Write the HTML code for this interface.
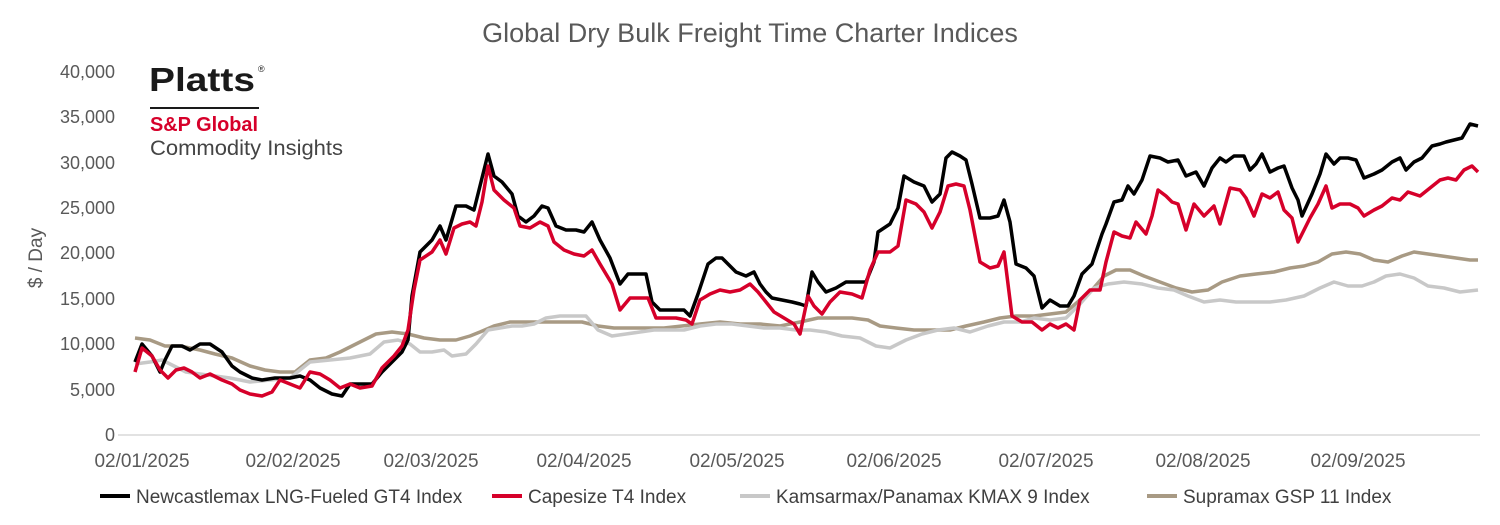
<!DOCTYPE html>
<html><head><meta charset="utf-8"><style>
body{margin:0;background:#fff;}
svg{display:block;font-family:"Liberation Sans",Arial,sans-serif;}
</style></head><body>
<svg width="1500" height="525" viewBox="0 0 1500 525" xmlns="http://www.w3.org/2000/svg">
<rect width="1500" height="525" fill="#fff"/>
<text x="750" y="42" text-anchor="middle" font-size="27" fill="#595959">Global Dry Bulk Freight Time Charter Indices</text>
<g font-size="18" fill="#595959" text-anchor="end">
<text x="115" y="441">0</text><text x="115" y="396">5,000</text><text x="115" y="350">10,000</text><text x="115" y="305">15,000</text><text x="115" y="259">20,000</text><text x="115" y="214">25,000</text><text x="115" y="169">30,000</text><text x="115" y="123">35,000</text><text x="115" y="78">40,000</text>
</g>
<text transform="translate(42,258) rotate(-90)" text-anchor="middle" font-size="19" fill="#595959">$ / Day</text>
<line x1="118" y1="435" x2="1480" y2="435" stroke="#d9d9d9" stroke-width="1.5"/>
<g font-size="19" fill="#595959" text-anchor="middle">
<text x="142" y="467">02/01/2025</text><text x="293" y="467">02/02/2025</text><text x="431" y="467">02/03/2025</text><text x="584" y="467">02/04/2025</text><text x="737" y="467">02/05/2025</text><text x="894" y="467">02/06/2025</text><text x="1046" y="467">02/07/2025</text><text x="1203" y="467">02/08/2025</text><text x="1358" y="467">02/09/2025</text>
</g>
<text x="149" y="91" font-size="33" font-weight="bold" fill="#1a1a1a" textLength="106" lengthAdjust="spacingAndGlyphs">Platts</text>
<text x="258" y="72" font-size="9" fill="#1a1a1a">®</text>
<line x1="150" y1="108" x2="259" y2="108" stroke="#1a1a1a" stroke-width="2"/>
<text x="150" y="131" font-size="20" font-weight="bold" fill="#d6002a" textLength="108" lengthAdjust="spacingAndGlyphs">S&amp;P Global</text>
<text x="150" y="155" font-size="21" fill="#444" textLength="193" lengthAdjust="spacingAndGlyphs">Commodity Insights</text>
<g fill="none" stroke-width="3.5" stroke-linejoin="round">
<polyline stroke="#a89a84" points="135,338 150,340 165,346 180,346 200,350 215,354 232,358 250,366 265,370 280,372 295,372 310,360 326,358 340,352 360,342 376,334 392,332 408,334 424,338 440,340 456,340 470,336 480,332 494,326 510,322 530,322 548,322 566,322 582,322 598,326 614,328 630,328 648,328 664,328 682,326 700,324 720,322 740,324 760,324 780,326 800,322 818,318 836,318 852,318 868,320 880,326 896,328 914,330 934,330 950,330 966,326 984,322 1000,318 1016,316 1034,316 1050,314 1066,312 1080,300 1092,290 1104,276 1116,270 1130,270 1144,276 1160,282 1176,288 1192,292 1208,290 1222,282 1240,276 1256,274 1274,272 1290,268 1304,266 1318,262 1332,254 1346,252 1360,254 1374,260 1388,262 1402,256 1414,252 1428,254 1442,256 1456,258 1470,260 1478,260"/>
<polyline stroke="#c8c8c8" points="135,364 150,362 162,360 174,366 186,372 200,374 215,376 230,378 250,382 270,380 290,378 300,370 310,362 330,360 350,358 370,354 384,342 398,340 410,344 420,352 432,352 444,350 452,356 466,354 476,344 488,330 500,328 512,326 522,326 534,324 546,318 560,316 576,316 586,316 598,330 612,336 626,334 640,332 654,330 668,330 684,330 700,326 716,324 732,324 748,326 764,328 780,328 796,330 810,330 826,332 842,336 860,338 876,346 890,348 906,340 922,334 938,330 954,328 970,332 988,326 1004,322 1020,322 1034,318 1050,320 1066,318 1080,304 1094,288 1108,284 1124,282 1142,284 1158,288 1174,290 1188,296 1204,302 1220,300 1236,302 1252,302 1270,302 1286,300 1304,296 1320,288 1334,282 1348,286 1362,286 1374,282 1386,276 1400,274 1414,278 1428,286 1444,288 1460,292 1478,290"/>
<polyline stroke="#000" points="135,362 142,344 152,356 160,372 165,360 172,346 182,346 190,350 200,344 210,344 222,352 232,366 240,372 252,378 262,380 275,378 290,378 300,376 310,380 320,388 332,394 342,396 350,384 360,384 372,384 382,372 392,362 402,352 408,340 412,296 420,252 432,240 440,226 446,240 456,206 466,206 474,210 480,186 488,154 494,176 502,182 512,194 518,216 526,222 534,216 542,206 548,208 556,226 566,230 576,230 584,232 592,222 600,240 610,258 620,284 628,274 636,274 646,274 652,302 660,310 672,310 684,310 690,316 698,294 708,264 716,258 722,258 728,264 736,272 746,276 754,272 760,284 766,292 772,298 782,300 792,302 800,304 806,306 812,272 818,282 826,292 836,288 846,282 856,282 866,282 874,262 878,232 890,224 898,208 904,176 914,182 924,186 932,202 940,194 946,158 952,152 960,156 966,160 972,184 980,218 990,218 998,216 1004,200 1010,222 1016,264 1026,268 1034,276 1042,308 1050,300 1060,306 1068,306 1074,296 1082,274 1092,264 1102,234 1106,224 1114,202 1122,200 1128,186 1134,194 1142,180 1150,156 1160,158 1168,162 1178,160 1186,176 1196,172 1204,186 1212,168 1220,158 1226,162 1234,156 1244,156 1250,170 1256,164 1262,154 1270,172 1278,168 1284,166 1292,188 1298,200 1302,216 1312,194 1320,174 1326,154 1334,164 1340,158 1348,158 1356,160 1364,178 1374,174 1382,170 1392,162 1400,158 1406,170 1414,162 1422,158 1432,146 1440,144 1446,142 1454,140 1462,138 1470,124 1478,126"/>
<polyline stroke="#d6002a" points="135,372 142,348 152,356 160,370 168,378 176,370 184,368 192,372 200,378 210,374 222,380 232,384 240,390 250,394 262,396 272,392 280,380 290,384 300,388 310,372 320,374 330,380 340,388 350,384 360,388 372,386 382,368 394,356 402,346 408,330 414,290 420,260 432,252 440,240 446,254 454,228 462,224 470,222 476,226 482,202 488,166 494,190 504,200 514,208 520,226 530,228 540,222 548,226 554,242 564,250 574,254 584,256 592,250 600,264 612,284 620,310 630,298 640,298 648,298 656,318 666,318 676,318 686,320 692,324 700,300 710,294 720,290 730,292 740,290 750,284 758,292 766,302 774,312 784,318 794,324 800,334 808,296 814,306 822,314 830,302 840,292 852,294 862,298 870,270 878,252 890,252 898,246 906,200 916,204 924,212 932,228 940,212 948,186 956,184 964,186 970,210 980,262 990,268 998,266 1004,252 1012,316 1022,322 1032,322 1042,330 1050,324 1058,328 1066,324 1074,330 1080,300 1090,290 1100,290 1106,262 1114,232 1122,236 1130,238 1136,222 1146,234 1152,216 1158,190 1166,196 1172,202 1178,204 1186,230 1194,204 1204,216 1214,206 1220,224 1230,188 1240,190 1246,198 1254,216 1262,194 1270,198 1278,192 1284,210 1292,218 1298,242 1310,218 1318,204 1326,186 1332,208 1340,204 1350,204 1358,208 1364,216 1374,210 1382,206 1392,198 1400,200 1408,192 1420,196 1430,188 1440,180 1448,178 1456,180 1464,170 1472,166 1478,172"/>
</g>
<g stroke-width="4">
<line x1="100" y1="496" x2="130" y2="496" stroke="#000"/>
<line x1="492" y1="496" x2="522" y2="496" stroke="#d6002a"/>
<line x1="740" y1="496" x2="770" y2="496" stroke="#c8c8c8"/>
<line x1="1147" y1="496" x2="1177" y2="496" stroke="#a89a84"/>
</g>
<g font-size="19" fill="#404040">
<text x="136" y="503">Newcastlemax LNG-Fueled GT4 Index</text>
<text x="528" y="503">Capesize T4 Index</text>
<text x="776" y="503">Kamsarmax/Panamax KMAX 9 Index</text>
<text x="1183" y="503">Supramax GSP 11 Index</text>
</g>
</svg>
</body></html>
